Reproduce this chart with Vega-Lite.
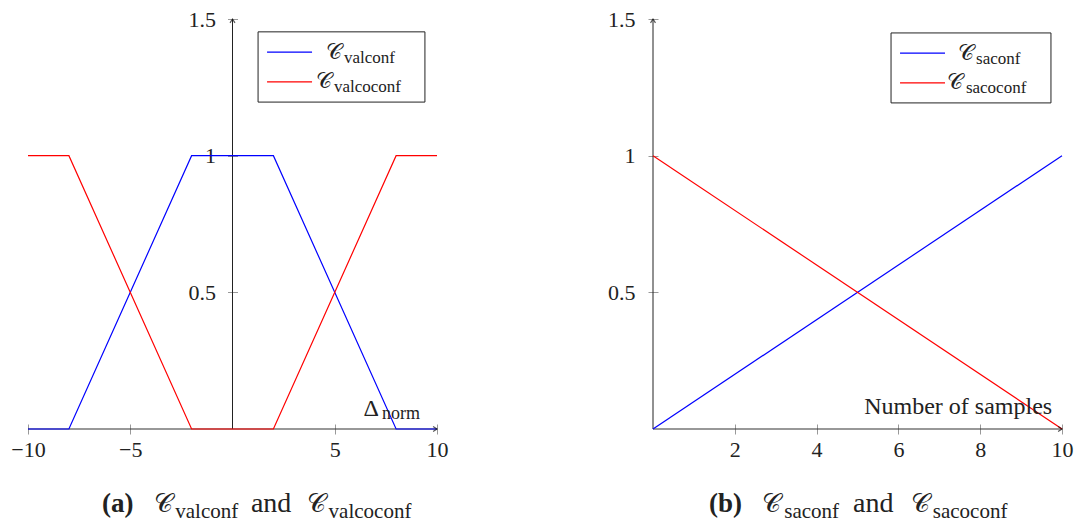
{
  "$schema": "https://vega.github.io/schema/vega-lite/v6.json",
  "padding": {"left": 10, "top": 8, "right": 2, "bottom": 2},
  "background": "white",
  "bounds": "flush",
  "spacing": 216,
  "config": {
    "view": {"stroke": null},
    "font": "Liberation Serif",
    "axis": {
      "grid": false, "title": null, "domain": false,
      "tickColor": "#999", "tickSize": 10, "labelFont": "Liberation Serif",
      "labelFontSize": 22, "labelColor": "#222", "labelFlush": false, "labelOverlap": false
    }
  },
  "datasets": {
    "a": [
      {"series": "valconf", "x": -10, "y": 0},
      {"series": "valconf", "x": -8, "y": 0},
      {"series": "valconf", "x": -2, "y": 1},
      {"series": "valconf", "x": 2, "y": 1},
      {"series": "valconf", "x": 8, "y": 0},
      {"series": "valconf", "x": 10, "y": 0},
      {"series": "valcoconf", "x": -10, "y": 1},
      {"series": "valcoconf", "x": -8, "y": 1},
      {"series": "valcoconf", "x": -2, "y": 0},
      {"series": "valcoconf", "x": 2, "y": 0},
      {"series": "valcoconf", "x": 8, "y": 1},
      {"series": "valcoconf", "x": 10, "y": 1}
    ],
    "b": [
      {"series": "saconf", "x": 0, "y": 0},
      {"series": "saconf", "x": 10, "y": 1},
      {"series": "sacoconf", "x": 0, "y": 1},
      {"series": "sacoconf", "x": 10, "y": 0}
    ]
  },
  "hconcat": [
    {
      "width": 409, "height": 410,
      "resolve": {"axis": {"x": "independent", "y": "independent"}},
      "layer": [
        {
          "data": {"values": [{}]},
          "mark": {"type": "rule", "stroke": "#222", "strokeWidth": 1},
          "encoding": {"x": {"datum": 0, "type": "quantitative", "axis": null}, "y": {"datum": 0, "type": "quantitative", "axis": null}, "y2": {"datum": 1.5}}
        },
        {
          "data": {"values": [{}]},
          "mark": {"type": "rule", "stroke": "#333", "strokeWidth": 1.2},
          "encoding": {"x": {"datum": -10, "type": "quantitative", "axis": null}, "x2": {"datum": 10}, "y": {"datum": 0, "type": "quantitative", "axis": null}}
        },
        {
          "data": {"name": "a"},
          "mark": {"type": "line", "strokeWidth": 1.2},
          "encoding": {
            "x": {"field": "x", "type": "quantitative", "scale": {"domain": [-10, 10], "nice": false, "zero": false},
                  "axis": {"values": [-10, -5, 5, 10], "offset": -5, "labelPadding": 5}},
            "y": {"field": "y", "type": "quantitative", "scale": {"domain": [0, 1.5], "nice": false, "zero": false},
                  "axis": {"values": [0.5, 1, 1.5], "format": "~g", "offset": -209.5, "labelPadding": 12}},
            "color": {"field": "series", "type": "nominal", "scale": {"domain": ["valconf", "valcoconf"], "range": ["#0000ff", "#ff0000"]}, "legend": null}
          }
        },
        {
          "data": {"values": [{}]},
          "mark": {"type": "point", "shape": "M -0.7 1.1 L 0 0 L 0.7 1.1", "filled": false, "stroke": "#111", "strokeWidth": 1.2, "size": 50},
          "encoding": {"x": {"datum": 0, "type": "quantitative", "axis": null}, "y": {"datum": 1.5, "type": "quantitative", "axis": null}}
        },
        {
          "data": {"values": [{}]},
          "mark": {"type": "point", "shape": "M -1.1 -0.7 L 0 0 L -1.1 0.7", "filled": false, "stroke": "#111", "strokeWidth": 1.2, "size": 50},
          "encoding": {"x": {"datum": 10, "type": "quantitative", "axis": null}, "y": {"datum": 0, "type": "quantitative", "axis": null}}
        },
        {
          "data": {"values": [{}]},
          "mark": {"type": "rect", "fill": "white", "stroke": "#222", "strokeWidth": 1},
          "encoding": {"x": {"datum": 1.25, "type": "quantitative", "axis": null}, "x2": {"datum": 9.41}, "y": {"datum": 1.453, "type": "quantitative", "axis": null}, "y2": {"datum": 1.196}}
        },
        {
          "data": {"values": [{}]},
          "mark": {"type": "rule", "stroke": "#0000ff", "strokeWidth": 1.2},
          "encoding": {"x": {"datum": 1.69, "type": "quantitative", "axis": null}, "x2": {"datum": 3.89}, "y": {"datum": 1.379, "type": "quantitative", "axis": null}}
        },
        {
          "data": {"values": [{}]},
          "mark": {"type": "rule", "stroke": "#ff0000", "strokeWidth": 1.2},
          "encoding": {"x": {"datum": 1.69, "type": "quantitative", "axis": null}, "x2": {"datum": 3.89}, "y": {"datum": 1.270, "type": "quantitative", "axis": null}}
        },
        {
          "data": {"values": [{}]},
          "mark": {"type": "text", "text": "𝒞", "align": "left", "baseline": "alphabetic", "fontSize": 22, "color": "#222"},
          "encoding": {"x": {"datum": 4.55, "type": "quantitative", "axis": null}, "y": {"datum": 1.354, "type": "quantitative", "axis": null}}
        },
        {
          "data": {"values": [{}]},
          "mark": {"type": "text", "text": "valconf", "align": "left", "baseline": "alphabetic", "fontSize": 17, "color": "#222"},
          "encoding": {"x": {"datum": 5.45, "type": "quantitative", "axis": null}, "y": {"datum": 1.340, "type": "quantitative", "axis": null}}
        },
        {
          "data": {"values": [{}]},
          "mark": {"type": "text", "text": "𝒞", "align": "left", "baseline": "alphabetic", "fontSize": 22, "color": "#222"},
          "encoding": {"x": {"datum": 4.06, "type": "quantitative", "axis": null}, "y": {"datum": 1.248, "type": "quantitative", "axis": null}}
        },
        {
          "data": {"values": [{}]},
          "mark": {"type": "text", "text": "valcoconf", "align": "left", "baseline": "alphabetic", "fontSize": 17, "color": "#222"},
          "encoding": {"x": {"datum": 4.96, "type": "quantitative", "axis": null}, "y": {"datum": 1.234, "type": "quantitative", "axis": null}}
        },
        {
          "data": {"values": [{}]},
          "mark": {"type": "text", "text": "Δ", "align": "left", "baseline": "alphabetic", "fontSize": 24, "color": "#222"},
          "encoding": {"x": {"datum": 6.4, "type": "quantitative", "axis": null}, "y": {"datum": 0.048, "type": "quantitative", "axis": null}}
        },
        {
          "data": {"values": [{}]},
          "mark": {"type": "text", "text": "norm", "align": "left", "baseline": "alphabetic", "fontSize": 18, "color": "#222"},
          "encoding": {"x": {"datum": 7.31, "type": "quantitative", "axis": null}, "y": {"datum": 0.035, "type": "quantitative", "axis": null}}
        },
        {
          "data": {"values": [{}]},
          "mark": {"type": "text", "text": "(a)", "align": "left", "baseline": "alphabetic", "fontSize": 27, "fontWeight": "bold", "color": "#222"},
          "encoding": {"x": {"datum": -6.38, "type": "quantitative", "axis": null}, "y": {"datum": -0.304, "type": "quantitative", "axis": null}}
        },
        {
          "data": {"values": [{}]},
          "mark": {"type": "text", "text": "𝒞", "align": "left", "baseline": "alphabetic", "fontSize": 26, "color": "#222"},
          "encoding": {"x": {"datum": -3.84, "type": "quantitative", "axis": null}, "y": {"datum": -0.304, "type": "quantitative", "axis": null}}
        },
        {
          "data": {"values": [{}]},
          "mark": {"type": "text", "text": "valconf", "align": "left", "baseline": "alphabetic", "fontSize": 21, "color": "#222"},
          "encoding": {"x": {"datum": -2.80, "type": "quantitative", "axis": null}, "y": {"datum": -0.326, "type": "quantitative", "axis": null}}
        },
        {
          "data": {"values": [{}]},
          "mark": {"type": "text", "text": "and", "align": "left", "baseline": "alphabetic", "fontSize": 28, "color": "#222"},
          "encoding": {"x": {"datum": 0.9, "type": "quantitative", "axis": null}, "y": {"datum": -0.304, "type": "quantitative", "axis": null}}
        },
        {
          "data": {"values": [{}]},
          "mark": {"type": "text", "text": "𝒞", "align": "left", "baseline": "alphabetic", "fontSize": 26, "color": "#222"},
          "encoding": {"x": {"datum": 3.64, "type": "quantitative", "axis": null}, "y": {"datum": -0.304, "type": "quantitative", "axis": null}}
        },
        {
          "data": {"values": [{}]},
          "mark": {"type": "text", "text": "valcoconf", "align": "left", "baseline": "alphabetic", "fontSize": 21, "color": "#222"},
          "encoding": {"x": {"datum": 4.70, "type": "quantitative", "axis": null}, "y": {"datum": -0.326, "type": "quantitative", "axis": null}}
        }
      ]
    },
    {
      "width": 409, "height": 410,
      "resolve": {"axis": {"x": "independent", "y": "independent"}},
      "layer": [
        {
          "data": {"values": [{}]},
          "mark": {"type": "rule", "stroke": "#222", "strokeWidth": 1},
          "encoding": {"x": {"datum": 0, "type": "quantitative", "axis": null}, "y": {"datum": 0, "type": "quantitative", "axis": null}, "y2": {"datum": 1.5}}
        },
        {
          "data": {"values": [{}]},
          "mark": {"type": "rule", "stroke": "#333", "strokeWidth": 1.2},
          "encoding": {"x": {"datum": 0, "type": "quantitative", "axis": null}, "x2": {"datum": 10}, "y": {"datum": 0, "type": "quantitative", "axis": null}}
        },
        {
          "data": {"name": "b"},
          "mark": {"type": "line", "strokeWidth": 1.2},
          "encoding": {
            "x": {"field": "x", "type": "quantitative", "scale": {"domain": [0, 10], "nice": false, "zero": false},
                  "axis": {"values": [2, 4, 6, 8, 10], "offset": -5, "labelPadding": 5}},
            "y": {"field": "y", "type": "quantitative", "scale": {"domain": [0, 1.5], "nice": false, "zero": false},
                  "axis": {"values": [0.5, 1, 1.5], "format": "~g", "offset": -5, "labelPadding": 13}},
            "color": {"field": "series", "type": "nominal", "scale": {"domain": ["saconf", "sacoconf"], "range": ["#0000ff", "#ff0000"]}, "legend": null}
          }
        },
        {
          "data": {"values": [{}]},
          "mark": {"type": "point", "shape": "M -0.7 1.1 L 0 0 L 0.7 1.1", "filled": false, "stroke": "#111", "strokeWidth": 1.2, "size": 50},
          "encoding": {"x": {"datum": 0, "type": "quantitative", "axis": null}, "y": {"datum": 1.5, "type": "quantitative", "axis": null}}
        },
        {
          "data": {"values": [{}]},
          "mark": {"type": "point", "shape": "M -1.1 -0.7 L 0 0 L -1.1 0.7", "filled": false, "stroke": "#111", "strokeWidth": 1.2, "size": 50},
          "encoding": {"x": {"datum": 10, "type": "quantitative", "axis": null}, "y": {"datum": 0, "type": "quantitative", "axis": null}}
        },
        {
          "data": {"values": [{}]},
          "mark": {"type": "rect", "fill": "white", "stroke": "#222", "strokeWidth": 1},
          "encoding": {"x": {"datum": 5.82, "type": "quantitative", "axis": null}, "x2": {"datum": 9.73}, "y": {"datum": 1.449, "type": "quantitative", "axis": null}, "y2": {"datum": 1.193}}
        },
        {
          "data": {"values": [{}]},
          "mark": {"type": "rule", "stroke": "#0000ff", "strokeWidth": 1.2},
          "encoding": {"x": {"datum": 6.04, "type": "quantitative", "axis": null}, "x2": {"datum": 7.14}, "y": {"datum": 1.375, "type": "quantitative", "axis": null}}
        },
        {
          "data": {"values": [{}]},
          "mark": {"type": "rule", "stroke": "#ff0000", "strokeWidth": 1.2},
          "encoding": {"x": {"datum": 6.04, "type": "quantitative", "axis": null}, "x2": {"datum": 7.14}, "y": {"datum": 1.266, "type": "quantitative", "axis": null}}
        },
        {
          "data": {"values": [{}]},
          "mark": {"type": "text", "text": "𝒞", "align": "left", "baseline": "alphabetic", "fontSize": 22, "color": "#222"},
          "encoding": {"x": {"datum": 7.45, "type": "quantitative", "axis": null}, "y": {"datum": 1.35, "type": "quantitative", "axis": null}}
        },
        {
          "data": {"values": [{}]},
          "mark": {"type": "text", "text": "saconf", "align": "left", "baseline": "alphabetic", "fontSize": 17, "color": "#222"},
          "encoding": {"x": {"datum": 7.90, "type": "quantitative", "axis": null}, "y": {"datum": 1.336, "type": "quantitative", "axis": null}}
        },
        {
          "data": {"values": [{}]},
          "mark": {"type": "text", "text": "𝒞", "align": "left", "baseline": "alphabetic", "fontSize": 22, "color": "#222"},
          "encoding": {"x": {"datum": 7.20, "type": "quantitative", "axis": null}, "y": {"datum": 1.244, "type": "quantitative", "axis": null}}
        },
        {
          "data": {"values": [{}]},
          "mark": {"type": "text", "text": "sacoconf", "align": "left", "baseline": "alphabetic", "fontSize": 17, "color": "#222"},
          "encoding": {"x": {"datum": 7.65, "type": "quantitative", "axis": null}, "y": {"datum": 1.230, "type": "quantitative", "axis": null}}
        },
        {
          "data": {"values": [{}]},
          "mark": {"type": "text", "text": "Number of samples", "align": "right", "baseline": "alphabetic", "fontSize": 24, "color": "#222"},
          "encoding": {"x": {"datum": 9.76, "type": "quantitative", "axis": null}, "y": {"datum": 0.055, "type": "quantitative", "axis": null}}
        },
        {
          "data": {"values": [{}]},
          "mark": {"type": "text", "text": "(b)", "align": "left", "baseline": "alphabetic", "fontSize": 27, "fontWeight": "bold", "color": "#222"},
          "encoding": {"x": {"datum": 1.37, "type": "quantitative", "axis": null}, "y": {"datum": -0.304, "type": "quantitative", "axis": null}}
        },
        {
          "data": {"values": [{}]},
          "mark": {"type": "text", "text": "𝒞", "align": "left", "baseline": "alphabetic", "fontSize": 26, "color": "#222"},
          "encoding": {"x": {"datum": 2.67, "type": "quantitative", "axis": null}, "y": {"datum": -0.304, "type": "quantitative", "axis": null}}
        },
        {
          "data": {"values": [{}]},
          "mark": {"type": "text", "text": "saconf", "align": "left", "baseline": "alphabetic", "fontSize": 21, "color": "#222"},
          "encoding": {"x": {"datum": 3.21, "type": "quantitative", "axis": null}, "y": {"datum": -0.326, "type": "quantitative", "axis": null}}
        },
        {
          "data": {"values": [{}]},
          "mark": {"type": "text", "text": "and", "align": "left", "baseline": "alphabetic", "fontSize": 28, "color": "#222"},
          "encoding": {"x": {"datum": 4.89, "type": "quantitative", "axis": null}, "y": {"datum": -0.304, "type": "quantitative", "axis": null}}
        },
        {
          "data": {"values": [{}]},
          "mark": {"type": "text", "text": "𝒞", "align": "left", "baseline": "alphabetic", "fontSize": 26, "color": "#222"},
          "encoding": {"x": {"datum": 6.31, "type": "quantitative", "axis": null}, "y": {"datum": -0.304, "type": "quantitative", "axis": null}}
        },
        {
          "data": {"values": [{}]},
          "mark": {"type": "text", "text": "sacoconf", "align": "left", "baseline": "alphabetic", "fontSize": 21, "color": "#222"},
          "encoding": {"x": {"datum": 6.84, "type": "quantitative", "axis": null}, "y": {"datum": -0.326, "type": "quantitative", "axis": null}}
        }
      ]
    }
  ]
}
